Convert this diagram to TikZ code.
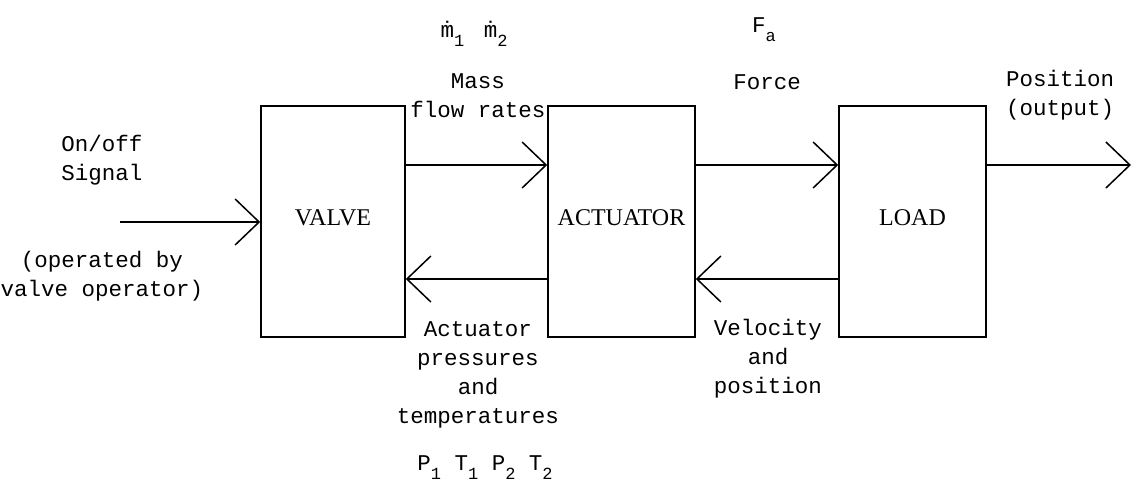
\documentclass[tikz,border=0pt]{standalone}
\usepackage{fontspec}
\setmainfont{Liberation Serif}
\newfontfamily\typewriter{Liberation Mono}
\usetikzlibrary{arrows.meta}
\newcommand{\lowsub}[1]{\raisebox{-9pt}{\fontsize{17}{17}\selectfont #1}}
\tikzset{
  blockbox/.style={draw, line width=1.6pt, minimum width=146pt, minimum height=231pt, inner sep=0pt,
    text depth=8pt, font=\fontsize{24}{28}\selectfont},
  lbl/.style={align=center, inner sep=0pt, font=\typewriter\fontsize{22.5}{29}\selectfont},
  flow/.style={line width=1.5pt, -{Straight Barb[length=24pt, width=46pt, line width=1.5pt]}},
}
\begin{document}
\begin{tikzpicture}[x=1pt, y=-1pt]
\useasboundingbox (0,0) rectangle (1133,489);
\node[blockbox, minimum width=144pt] (valve) at (333,221.5) {VALVE};
\node[blockbox, minimum width=147pt] (act) at (621.5,221.5) {ACTUATOR};
\node[blockbox, minimum width=147pt] (load) at (912.5,221.5) {LOAD};
\coordinate (in) at (120,222);
\coordinate (out) at (1131,165);
\draw[flow] (in) -- (valve.west |- in);
\draw[flow] (valve.east |- 0,165) -- (act.west |- 0,165);
\draw[flow] (act.west |- 0,279) -- (valve.east |- 0,279);
\draw[flow] (act.east |- 0,165) -- (load.west |- 0,165);
\draw[flow] (load.west |- 0,279) -- (act.east |- 0,279);
\draw[flow] (load.east |- out) -- (out);
\node[lbl] (onoff) at (102,160) {On/off\\Signal};
\node[lbl] (oper) at (102,276) {(operated by\\valve operator)};
\node[lbl] (mass) at (478,96) {Mass\\flow rates};
\node[lbl, anchor=base] (mdot) at (474,38) {\.{m}\lowsub{1}\hspace{6pt} \.{m}\lowsub{2}};
\node[lbl] (force) at (767,82) {Force};
\node[lbl, anchor=base] (fa) at (764,33) {F\lowsub{a}};
\node[lbl] (pos) at (1060,95) {Position\\(output)};
\node[lbl] (press) at (478,375) {Actuator\\pressures\\and\\temperatures};
\node[lbl, anchor=base] (pt) at (485,470) {P\lowsub{1} T\lowsub{1} P\lowsub{2} T\lowsub{2}};
\node[lbl] (vel) at (768,359) {Velocity\\and\\position};
\end{tikzpicture}
\end{document}
